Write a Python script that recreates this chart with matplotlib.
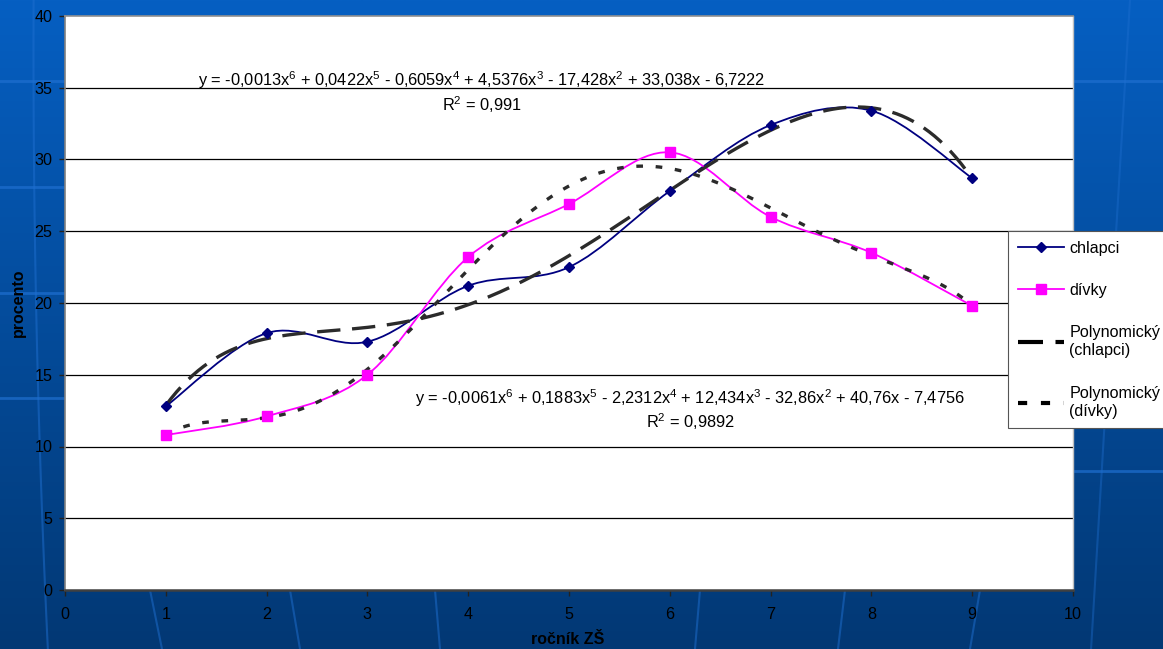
import numpy as np
import matplotlib
matplotlib.use("Agg")
import matplotlib.pyplot as plt
from matplotlib.path import Path
from matplotlib.patches import PathPatch
from matplotlib.lines import Line2D

plt.rcParams['font.family'] = ['Liberation Sans', 'DejaVu Sans']
plt.rcParams['mathtext.fontset'] = 'custom'
plt.rcParams['mathtext.rm'] = 'Liberation Sans'
plt.rcParams['mathtext.it'] = 'Liberation Sans'
plt.rcParams['mathtext.default'] = 'regular'

# ---- data ----
rocnik = [1, 2, 3, 4, 5, 6, 7, 8, 9]
chlapci = [12.8, 17.9, 17.3, 21.2, 22.5, 27.8, 32.4, 33.4, 28.7]
divky = [10.8, 12.1, 15.0, 23.2, 26.9, 30.5, 26.0, 23.5, 19.8]
series_names = ["chlapci", "dívky", "Polynomický\n(chlapci)", "Polynomický\n(dívky)"]
eq_chlapci = "y = -0,0013x$^6$ + 0,0422x$^5$ - 0,6059x$^4$ + 4,5376x$^3$ - 17,428x$^2$ + 33,038x - 6,7222"
r2_chlapci = "R$^2$ = 0,991"
eq_divky = "y = -0,0061x$^6$ + 0,1883x$^5$ - 2,2312x$^4$ + 12,434x$^3$ - 32,86x$^2$ + 40,76x - 7,4756"
r2_divky = "R$^2$ = 0,9892"
x_ticks = list(range(0, 11))
y_ticks = list(range(0, 41, 5))

W, H = 1163, 649
fig = plt.figure(figsize=(W / 100, H / 100), dpi=100)

# ---- background gradient ----
bg = fig.add_axes([0, 0, 1, 1], zorder=-10)
top = np.array([0x06, 0x5f, 0xc2]) / 255
bot = np.array([0x02, 0x38, 0x74]) / 255
t = np.linspace(0, 1, 256)[:, None]
grad = (1 - t) * top + t * bot
bg.imshow(grad[:, None, :].repeat(2, axis=1), aspect='auto', extent=[0, W, H, 0])
lc = '#1f6fd0'
for yy in [81, 187, 293, 398]:
    bg.plot([0, 65], [yy, yy], color=lc, lw=2, alpha=0.7)
for yy in [81, 471]:
    bg.plot([1075, W], [yy, yy], color=lc, lw=2, alpha=0.7)
yy = np.linspace(0, H, 100)
bg.plot(30 + 0.00004 * (yy - 300) ** 2 + 0.02 * yy, yy, color=lc, lw=1.5, alpha=0.5)
bg.plot(1130 - 0.06 * yy, yy, color=lc, lw=1.5, alpha=0.4)
for x0, x1 in [(150, 162), (290, 300), (435, 440), (700, 695), (845, 838), (980, 970)]:
    bg.plot([x0, x1], [590, H], color=lc, lw=1.5, alpha=0.5)
bg.set_xlim(0, W)
bg.set_ylim(H, 0)
bg.axis('off')

# ---- main axes ----
L, R, T, B = 65, 1073, 16, 590
ax = fig.add_axes([L / W, 1 - B / H, (R - L) / W, (B - T) / H])
ax.set_facecolor('white')
ax.set_xlim(0, 10)
ax.set_ylim(0, 40)
ax.set_xticks(x_ticks)
ax.set_yticks(y_ticks)
ax.tick_params(axis='both', direction='out', length=4, width=1, color='#222222',
               labelsize=11.6, labelcolor='black')
ax.tick_params(axis='x', pad=8)
ax.tick_params(axis='y', pad=5)
for yv in y_ticks[1:-1]:
    ax.axhline(yv, color='black', lw=0.9, zorder=1)
ax.spines['left'].set_color('#808080')
ax.spines['left'].set_linewidth(1.2)
ax.spines['bottom'].set_color('#404040')
ax.spines['bottom'].set_linewidth(1.8)
ax.spines['top'].set_color('#909090')
ax.spines['top'].set_linewidth(1.2)
ax.spines['right'].set_color('#c0c0c0')
ax.spines['right'].set_linewidth(1.0)


def smooth_path(xs, ys):
    xs = np.asarray(xs, float)
    ys = np.asarray(ys, float)
    pts = np.column_stack([xs, ys])
    n = len(pts)
    verts = [pts[0]]
    codes = [Path.MOVETO]
    for i in range(n - 1):
        p0 = pts[i - 1] if i > 0 else pts[i]
        p1 = pts[i]
        p2 = pts[i + 1]
        p3 = pts[i + 2] if i + 2 < n else pts[i + 1]
        c1 = p1 + (p2 - p0) / 6.0
        c2 = p2 - (p3 - p1) / 6.0
        verts += [c1, c2, p2]
        codes += [Path.CURVE4] * 3
    return Path(verts, codes)


c_col = '#000080'
d_col = '#ff00ff'
trend_col = '#2b2b2b'

ax.add_patch(PathPatch(smooth_path(rocnik, chlapci), fc='none', ec=c_col, lw=1.3, zorder=3))
ax.add_patch(PathPatch(smooth_path(rocnik, divky), fc='none', ec=d_col, lw=1.3, zorder=3))

# polynomial trendlines (6th order fit from data)
xf = np.linspace(min(rocnik), max(rocnik), 300)
pc = np.polyfit(rocnik, chlapci, 6)
pd_ = np.polyfit(rocnik, divky, 6)
ax.plot(xf, np.polyval(pc, xf), color=trend_col, lw=2.4, dashes=(7, 3.5), zorder=4)
ax.plot(xf, np.polyval(pd_, xf), color=trend_col, lw=2.4, dashes=(2.0, 3.8), zorder=4)

ax.plot(rocnik, chlapci, ls='none', marker='D', ms=5.5, color=c_col, zorder=5)
ax.plot(rocnik, divky, ls='none', marker='s', ms=7, color=d_col, zorder=5)

ax.text(4.13, 35.5, eq_chlapci, ha='center', va='center', fontsize=11.8, zorder=6)
ax.text(4.13, 33.8, r2_chlapci, ha='center', va='center', fontsize=11.8, zorder=6)
ax.text(6.2, 13.4, eq_divky, ha='center', va='center', fontsize=11.8, zorder=6)
ax.text(6.2, 11.7, r2_divky, ha='center', va='center', fontsize=11.8, zorder=6)

fig.text(18 / W, 1 - 303 / H, "procento", rotation=90, ha='center', va='center',
         fontsize=11.5, fontweight='bold')
fig.text(568 / W, 1 - 640 / H, "ročník ZŠ", ha='center', va='center',
         fontsize=11.5, fontweight='bold')

handles = [
    Line2D([], [], color=c_col, lw=1.3, marker='D', ms=5.5),
    Line2D([], [], color=d_col, lw=1.3, marker='s', ms=7),
    Line2D([], [], color='black', lw=3, dashes=(6, 3)),
    Line2D([], [], color='black', lw=3, dashes=(2.2, 3.3)),
]
leg = fig.legend(handles, series_names, loc='upper left',
                 bbox_to_anchor=(1008 / W, 1 - 231 / H), fontsize=11.6,
                 frameon=True, fancybox=False, framealpha=1, edgecolor='#555555',
                 borderpad=0.6, labelspacing=1.7, handlelength=2.9,
                 handletextpad=0.3, borderaxespad=0)
leg.get_frame().set_linewidth(0.8)
for txt in leg.get_texts():
    txt.set_linespacing(1.25)

fig.savefig("out.png", dpi=100)
